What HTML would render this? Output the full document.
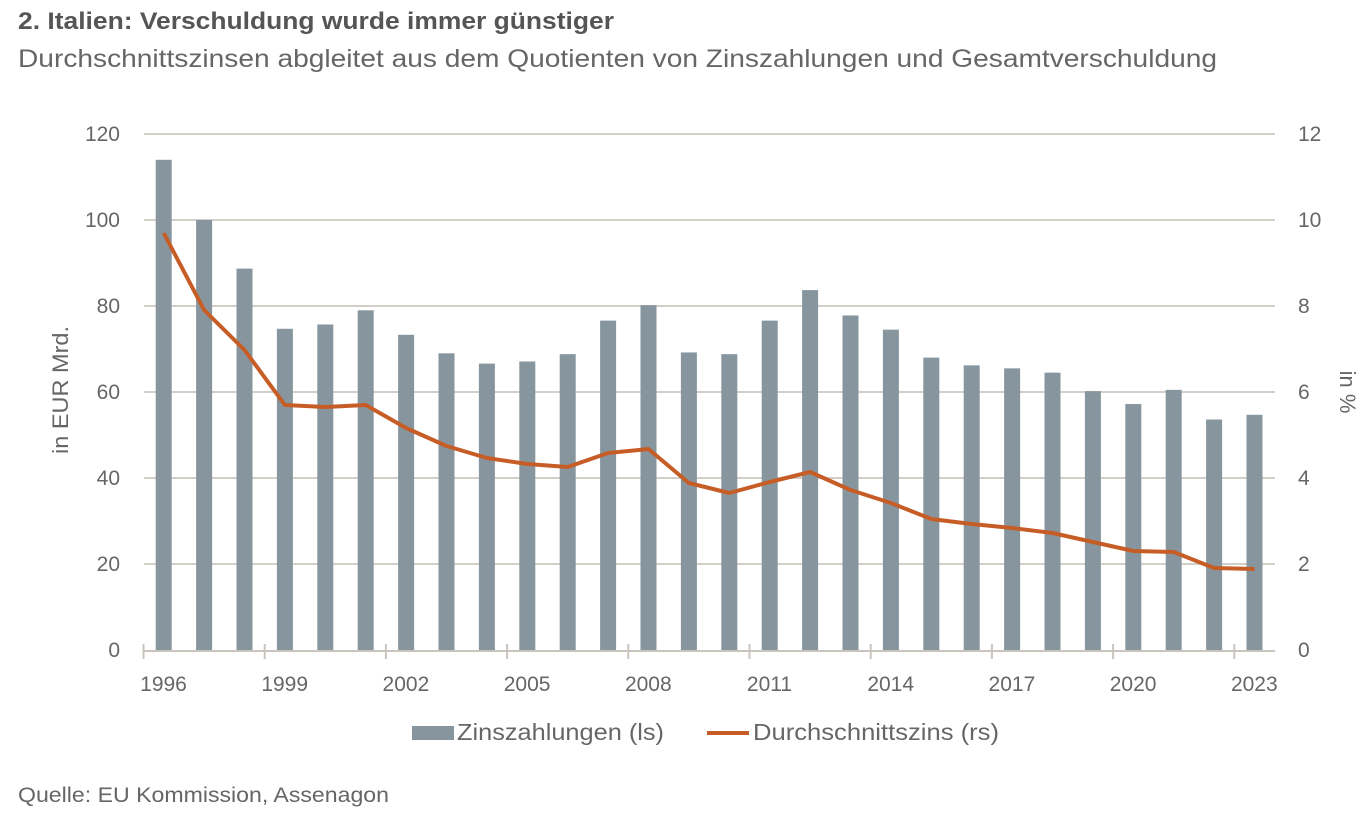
<!DOCTYPE html>
<html><head><meta charset="utf-8"><style>
body{margin:0;background:#fff;}
svg text{font-family:"Liberation Sans",sans-serif;fill:#666;}
</style></head><body>
<svg width="1372" height="826" viewBox="0 0 1372 826" xmlns="http://www.w3.org/2000/svg">
<text x="18" y="29" font-size="24" font-weight="bold" style="fill:#555" textLength="596" lengthAdjust="spacingAndGlyphs">2. Italien: Verschuldung wurde immer günstiger</text>
<text x="18" y="67" font-size="25" textLength="1199" lengthAdjust="spacingAndGlyphs">Durchschnittszinsen abgleitet aus dem Quotienten von Zinszahlungen und Gesamtverschuldung</text>
<g stroke="#d3cfc8" stroke-width="2">
<line x1="144" x2="1275" y1="134" y2="134"/><line x1="144" x2="1275" y1="220" y2="220"/>
<line x1="144" x2="1275" y1="306" y2="306"/><line x1="144" x2="1275" y1="392" y2="392"/>
<line x1="144" x2="1275" y1="478" y2="478"/><line x1="144" x2="1275" y1="564" y2="564"/>
</g>
<g font-size="21" text-anchor="end">
<text x="120" y="141">120</text><text x="120" y="227">100</text><text x="120" y="313">80</text>
<text x="120" y="399">60</text><text x="120" y="485">40</text><text x="120" y="571">20</text><text x="120" y="657">0</text>
</g>
<g font-size="21" text-anchor="start">
<text x="1298" y="141">12</text><text x="1298" y="227">10</text><text x="1298" y="313">8</text>
<text x="1298" y="399">6</text><text x="1298" y="485">4</text><text x="1298" y="571">2</text><text x="1298" y="657">0</text>
</g>
<text transform="translate(68,390) rotate(-90)" font-size="22" text-anchor="middle" textLength="128" lengthAdjust="spacingAndGlyphs">in EUR Mrd.</text>
<text transform="translate(1340,392) rotate(90)" font-size="22" text-anchor="middle">in %</text>
<g id="bars" fill="#87969e"></g>
<line x1="143" x2="1275" y1="651" y2="651" stroke="#c9c4bc" stroke-width="2"/>
<g id="ticks" stroke="#c9c4bc" stroke-width="2"></g>
<g font-size="21" text-anchor="middle">
<text x="163.5" y="691">1996</text><text x="284.7" y="691">1999</text><text x="405.9" y="691">2002</text>
<text x="527.1" y="691">2005</text><text x="648.3" y="691">2008</text><text x="769.5" y="691">2011</text>
<text x="890.7" y="691">2014</text><text x="1011.9" y="691">2017</text><text x="1133.1" y="691">2020</text><text x="1254.3" y="691">2023</text>
</g>
<polyline id="line" fill="none" stroke="#c65d27" stroke-width="4" stroke-linejoin="round"/>
<rect x="412" y="726" width="42" height="14" fill="#87969e"/>
<text x="457" y="740" font-size="23" textLength="207" lengthAdjust="spacingAndGlyphs">Zinszahlungen (ls)</text>
<line x1="707" x2="749" y1="733" y2="733" stroke="#c65d27" stroke-width="4"/>
<text x="753" y="740" font-size="23" textLength="246" lengthAdjust="spacingAndGlyphs">Durchschnittszins (rs)</text>
<text x="18" y="802" font-size="21" textLength="371" lengthAdjust="spacingAndGlyphs">Quelle: EU Kommission, Assenagon</text>
<script>
var v=[114,100,88.7,74.7,75.7,79,73.3,69,66.6,67.1,68.8,76.6,80.2,69.2,68.8,76.6,83.7,77.8,74.5,68,66.2,65.5,64.5,60.2,57.2,60.5,53.6,54.7];
var ly=[233,310,350,405,407,405,428,446,458,464,467,453,449,483,493,482,472,490,503,519,524,528,533,542,551,552,568,569];
var b=document.getElementById('bars'),t=document.getElementById('ticks'),ns='http://www.w3.org/2000/svg',pts=[];
for(var i=0;i<28;i++){var cx=143.5+40.4*i+20.2;var r=document.createElementNS(ns,'rect');var h=v[i]*4.3;
r.setAttribute('x',cx-8);r.setAttribute('width',16);r.setAttribute('y',650-h);r.setAttribute('height',h);b.appendChild(r);pts.push(cx+','+ly[i]);}
for(var k=0;k<10;k++){var x=143.5+121.2*k;var l=document.createElementNS(ns,'line');l.setAttribute('x1',x);l.setAttribute('x2',x);l.setAttribute('y1',644);l.setAttribute('y2',659);t.appendChild(l);}
document.getElementById('line').setAttribute('points',pts.join(' '));
</script>
</svg>
</body></html>
